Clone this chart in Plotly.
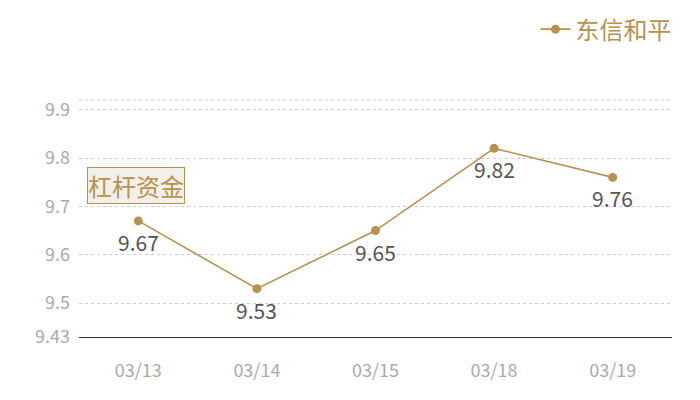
import plotly.graph_objects as go

dates = ["03/13", "03/14", "03/15", "03/18", "03/19"]
values = [9.67, 9.53, 9.65, 9.82, 9.76]
series_name = "东信和平"
y_ticks = [9.43, 9.5, 9.6, 9.7, 9.8, 9.9]
y_tick_text = ["9.43", "9.5", "9.6", "9.7", "9.8", "9.9"]

gold = "#b8914f"
font_family = "Noto Sans CJK SC"

fig = go.Figure()
fig.add_trace(go.Scatter(
    x=dates,
    y=values,
    mode="lines+markers",
    name=series_name,
    line=dict(color=gold, width=1.6),
    marker=dict(color=gold, size=9),
))

# value labels under each point
for d, v in zip(dates, values):
    fig.add_annotation(
        x=d, y=v, text=f"{v:.2f}",
        showarrow=False, yshift=-21,
        font=dict(size=21, color="#555555", family=font_family),
    )

# page body has an 8px margin, so the figure is a bit smaller than the window
fig.update_layout(
    width=692,
    height=392,
    margin=dict(l=71, r=28, t=92, b=63, autoexpand=False),
    plot_bgcolor="white",
    paper_bgcolor="white",
    font=dict(family=font_family),
    showlegend=True,
    legend=dict(
        xref="container", yref="container",
        x=0.966, xanchor="right",
        y=0.945, yanchor="middle",
        font=dict(size=24, color=gold),
        bgcolor="rgba(0,0,0,0)",
        itemwidth=30,
    ),
    xaxis=dict(
        type="category",
        range=[-0.5, 4.5],
        showgrid=False,
        showline=True,
        linecolor="#333333",
        linewidth=1,
        ticks="",
        tickfont=dict(size=18, color="#aaaaaa"),
        ticklabelstandoff=17,
        zeroline=False,
        automargin=False,
    ),
    yaxis=dict(
        range=[9.43, 9.92],
        tickvals=y_ticks,
        ticktext=y_tick_text,
        showgrid=True,
        gridcolor="#cccccc",
        griddash="dot",
        gridwidth=1,
        zeroline=False,
        showline=False,
        tickfont=dict(size=18, color="#aaaaaa"),
        ticklabelstandoff=8,
        automargin=False,
    ),
)

# dotted top border of plot area
fig.add_shape(
    type="line", xref="paper", yref="paper",
    x0=0, x1=1, y0=1, y1=1,
    line=dict(color="#cccccc", width=1, dash="dot"),
)

fig.add_annotation(
    text="杠杆资金",
    xref="paper", yref="paper",
    x=0.0135, y=0.717,
    xanchor="left", yanchor="top",
    showarrow=False,
    font=dict(size=24, color=gold, family=font_family),
    bgcolor="#f3efe9",
    bordercolor=gold,
    borderwidth=1,
    borderpad=0,
)

fig.write_html("out.html")
